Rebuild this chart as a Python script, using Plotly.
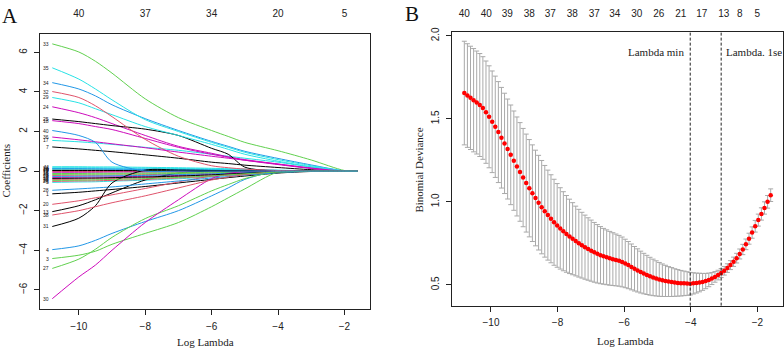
import numpy as np
import plotly.graph_objects as go

W, H = 784, 349

# ---------------- Panel A: coefficient paths ----------------
grid_loglam = [-10.8, -10, -9.5, -9, -8, -7, -6, -5.5, -5, -4, -3, -2, -1.6]

c33 = [6.43, 6.02, 5.55, 4.95, 3.65, 2.70, 2.05, 1.75, 1.45, 1.03, 0.56, 0.03, 0]
c35 = [5.22, 4.65, 4.15, 3.60, 2.60, 2.00, 1.45, 1.20, 0.95, 0.58, 0.27, 0.01, 0]
c34 = [4.47, 4.15, 3.80, 3.35, 2.65, 2.05, 1.50, 1.25, 1.00, 0.64, 0.31, 0.01, 0]
c32 = [4.02, 3.72, 3.30, 2.75, 1.60, 0.75, 0.27, 0.17, 0.10, 0.03, 0, 0, 0]
c29 = [3.72, 3.45, 3.15, 2.85, 2.25, 1.80, 1.35, 1.10, 0.85, 0.50, 0.22, 0, 0]
c24 = [3.25, 2.95, 2.70, 2.40, 1.80, 1.25, 0.90, 0.72, 0.58, 0.36, 0.15, 0, 0]
c25 = [2.63, 2.50, 2.40, 2.30, 2.12, 1.80, 1.15, 0.85, 0.20, 0, 0, 0, 0]
c18 = [2.55, 2.40, 2.25, 2.10, 1.65, 1.20, 0.85, 0.70, 0.55, 0.33, 0.13, 0, 0]
c40 = [2.05, 1.80, 1.45, 0.45, 0, 0, 0, 0, 0, 0, 0, 0, 0]
c36 = [1.72, 1.58, 1.48, 1.38, 1.18, 0.96, 0.75, 0.65, 0.55, 0.35, 0.15, 0, 0]
c17 = [1.55, 1.48, 1.42, 1.35, 1.20, 1.05, 0.85, 0.75, 0.65, 0.45, 0.20, 0, 0]
c7 = [1.22, 1.12, 1.05, 0.98, 0.82, 0.65, 0.45, 0.38, 0.30, 0.18, 0.07, 0, 0]
c11 = [0.22, 0.22, 0.21, 0.21, 0.19, 0.17, 0.14, 0.12, 0.10, 0.05, 0.01, 0, 0]
c23 = [0.17, 0.17, 0.17, 0.16, 0.15, 0.13, 0.11, 0.09, 0.07, 0.03, 0, 0, 0]
c10 = [0.13, 0.13, 0.12, 0.12, 0.11, 0.10, 0.08, 0.07, 0.06, 0.03, 0, 0, 0]
c16 = [0.10, 0.10, 0.10, 0.09, 0.08, 0.07, 0.06, 0.05, 0.04, 0.02, 0, 0, 0]
c9 = [0.06, 0.06, 0.06, 0.05, 0.05, 0.04, 0.03, 0.03, 0.02, 0.01, 0, 0, 0]
c19 = [0.03, 0.03, 0.03, 0.03, 0.02, 0.02, 0.02, 0.01, 0.01, 0, 0, 0, 0]
c2 = [-0.02, -0.02, -0.02, -0.02, -0.02, -0.01, -0.01, -0.01, 0, 0, 0, 0, 0]
c12 = [-0.06, -0.06, -0.06, -0.05, -0.05, -0.04, -0.03, -0.02, -0.02, 0, 0, 0, 0]
c15 = [-0.12, -0.12, -0.11, -0.11, -0.10, -0.08, -0.06, -0.05, -0.04, -0.01, 0, 0, 0]
c21 = [-0.17, -0.16, -0.16, -0.15, -0.14, -0.12, -0.09, -0.07, -0.05, -0.02, 0, 0, 0]
c8 = [-0.22, -0.21, -0.21, -0.20, -0.18, -0.15, -0.11, -0.09, -0.07, -0.02, 0, 0, 0]
c22 = [-0.27, -0.26, -0.25, -0.24, -0.22, -0.18, -0.14, -0.11, -0.08, -0.03, 0, 0, 0]
c6 = [-0.32, -0.31, -0.30, -0.29, -0.26, -0.22, -0.16, -0.13, -0.10, -0.03, 0, 0, 0]
c37 = [-0.37, -0.36, -0.35, -0.33, -0.30, -0.25, -0.19, -0.15, -0.11, -0.04, 0, 0, 0]
c14 = [-0.42, -0.41, -0.39, -0.38, -0.34, -0.29, -0.21, -0.17, -0.13, -0.04, 0, 0, 0]
c39 = [-0.47, -0.46, -0.44, -0.42, -0.38, -0.32, -0.24, -0.19, -0.14, -0.05, 0, 0, 0]
c26 = [-0.52, -0.50, -0.49, -0.47, -0.42, -0.35, -0.26, -0.21, -0.16, -0.05, 0, 0, 0]
c5 = [-0.57, -0.55, -0.54, -0.51, -0.46, -0.39, -0.29, -0.23, -0.17, -0.06, 0, 0, 0]
c28 = [-0.97, -0.90, -0.85, -0.80, -0.65, -0.50, -0.35, -0.28, -0.20, -0.08, 0, 0, 0]
c1 = [-1.15, -1.07, -1.00, -0.93, -0.78, -0.60, -0.42, -0.33, -0.25, -0.10, -0.02, 0, 0]
c20 = [-1.68, -1.50, -1.35, -1.20, -0.88, -0.55, -0.25, -0.15, -0.08, 0, 0, 0, 0]
c13 = [-2.05, -1.75, -1.45, -1.10, -0.45, -0.10, 0, 0, 0, 0, 0, 0, 0]
c38 = [-2.22, -2.00, -1.80, -1.60, -1.25, -0.85, -0.45, -0.30, -0.18, -0.02, 0, 0, 0]
c31 = [-2.80, -2.38, -1.75, -0.60, 0.05, 0.05, 0.03, 0.02, 0.01, 0, 0, 0, 0]
c4 = [-3.97, -3.78, -3.50, -3.15, -2.55, -2.00, -1.25, -0.85, -0.42, 0, 0, 0, 0]
c3 = [-4.42, -4.25, -4.05, -3.70, -3.15, -2.60, -1.80, -1.35, -0.90, -0.05, 0, 0, 0]
c27 = [-4.92, -4.45, -3.95, -3.35, -2.40, -1.75, -1.00, -0.68, -0.38, -0.02, 0, 0, 0]
c30 = [-6.45, -5.35, -4.75, -4.00, -2.60, -1.45, -0.38, -0.12, -0.03, 0, 0, 0, 0]

coef_paths = {
    1: c1, 2: c2, 3: c3, 4: c4, 5: c5, 6: c6, 7: c7, 8: c8, 9: c9, 10: c10,
    11: c11, 12: c12, 13: c13, 14: c14, 15: c15, 16: c16, 17: c17, 18: c18,
    19: c19, 20: c20, 21: c21, 22: c22, 23: c23, 24: c24, 25: c25, 26: c26,
    27: c27, 28: c28, 29: c29, 30: c30, 31: c31, 32: c32, 33: c33, 34: c34,
    35: c35, 36: c36, 37: c37, 38: c38, 39: c39, 40: c40,
}

top_a_pos = [-10, -8, -6, -4, -2]
top_a_lab = ["40", "37", "34", "20", "5"]

# R default palette (matplot col = 1:6)
palette = ["#000000", "#DF536B", "#61D04F", "#2297E6", "#28E2E5", "#CD0BBC"]

# ---------------- Panel B: cross-validation ----------------
log_lambda = np.linspace(-10.8, -1.6, 100)
cv_mean = [
    1.655, 1.640, 1.626, 1.612, 1.598, 1.583, 1.565, 1.540, 1.512, 1.482,
    1.452, 1.420, 1.386, 1.352, 1.318, 1.283, 1.248, 1.213, 1.180, 1.146,
    1.113, 1.082, 1.052, 1.023, 0.995, 0.968, 0.943, 0.920, 0.898, 0.877,
    0.858, 0.840, 0.823, 0.807, 0.792, 0.778, 0.764, 0.751, 0.739, 0.727,
    0.716, 0.706, 0.696, 0.687, 0.679, 0.672, 0.666, 0.660, 0.655, 0.650,
    0.645, 0.638, 0.629, 0.619, 0.608, 0.597, 0.587, 0.577, 0.568, 0.560,
    0.552, 0.545, 0.539, 0.533, 0.528, 0.524, 0.520, 0.517, 0.514, 0.512,
    0.510, 0.509, 0.508, 0.507, 0.509, 0.511, 0.514, 0.518, 0.523, 0.530,
    0.538, 0.548, 0.559, 0.571, 0.585, 0.601, 0.619, 0.639, 0.661, 0.686,
    0.713, 0.744, 0.778, 0.815, 0.853, 0.890, 0.927, 0.963, 1.000, 1.040,
]
cv_sd = [
    0.312, 0.312, 0.311, 0.311, 0.310, 0.310, 0.309, 0.308, 0.307, 0.306,
    0.305, 0.304, 0.303, 0.302, 0.301, 0.300, 0.299, 0.298, 0.297, 0.296,
    0.295, 0.293, 0.291, 0.288, 0.285, 0.281, 0.276, 0.271, 0.265, 0.259,
    0.252, 0.245, 0.238, 0.231, 0.224, 0.217, 0.210, 0.204, 0.198, 0.193,
    0.188, 0.184, 0.180, 0.176, 0.172, 0.168, 0.165, 0.162, 0.159, 0.156,
    0.153, 0.150, 0.146, 0.142, 0.138, 0.134, 0.130, 0.126, 0.122, 0.118,
    0.114, 0.110, 0.106, 0.102, 0.098, 0.094, 0.090, 0.087, 0.083, 0.080,
    0.077, 0.074, 0.071, 0.068, 0.064, 0.060, 0.056, 0.051, 0.046, 0.041,
    0.036, 0.032, 0.029, 0.027, 0.026, 0.026, 0.027, 0.028, 0.029, 0.030,
    0.031, 0.032, 0.033, 0.034, 0.035, 0.036, 0.037, 0.037, 0.038, 0.038,
]
top_b_pos = [-10.80, -10.14, -9.51, -8.85, -8.22, -7.56, -6.90, -6.28,
             -5.62, -4.96, -4.30, -3.67, -3.01, -2.53, -2.00]
top_b_lab = ["40", "40", "39", "38", "37", "38", "37", "34", "30", "26",
             "21", "17", "13", "8", "5"]

i_min = int(np.argmin(cv_mean))
thr = cv_mean[i_min] + cv_sd[i_min]
i_1se = max(i for i in range(len(cv_mean)) if cv_mean[i] <= thr and i >= i_min)
lam_min = float(log_lambda[i_min])
lam_1se = float(log_lambda[i_1se])

# ---------------- figure ----------------
SANS = "Liberation Sans, Arial, sans-serif"
SERIF = "Liberation Serif, Times New Roman, serif"

fig = go.Figure()

for k in sorted(coef_paths):
    fig.add_trace(go.Scatter(
        x=grid_loglam, y=coef_paths[k], mode="lines",
        line=dict(color=palette[(k - 1) % 6], width=1, shape="spline", smoothing=0.8),
        xaxis="x", yaxis="y", showlegend=False, hoverinfo="skip"))

fig.add_trace(go.Scatter(
    x=list(log_lambda), y=cv_mean, mode="markers",
    marker=dict(color="#FF0000", size=4.5),
    error_y=dict(type="data", array=cv_sd, color="#A9A9A9", thickness=1, width=2.5),
    xaxis="x2", yaxis="y2", showlegend=False, hoverinfo="skip"))

# invisible traces for the top axes
fig.add_trace(go.Scatter(x=top_a_pos, y=[None] * len(top_a_pos), xaxis="x3", yaxis="y",
                         showlegend=False, hoverinfo="skip", mode="markers"))
fig.add_trace(go.Scatter(x=top_b_pos, y=[None] * len(top_b_pos), xaxis="x4", yaxis="y2",
                         showlegend=False, hoverinfo="skip", mode="markers"))

def px_x(p):
    return p / W

def px_y(p):
    return 1 - p / H

xrange = [-11.17, -1.23]
ax_common = dict(showgrid=False, zeroline=False, showline=True, mirror=True,
                 linecolor="#222", linewidth=1, ticks="outside", ticklen=5,
                 tickcolor="#222", tickfont=dict(family=SANS, size=10, color="#222"))

fig.update_layout(
    width=W, height=H, margin=dict(l=0, r=0, t=0, b=0),
    paper_bgcolor="white", plot_bgcolor="white",
    xaxis=dict(domain=[px_x(40), px_x(370)], range=xrange, anchor="y",
               tickvals=[-10, -8, -6, -4, -2], ticklabelstandoff=3, **ax_common),
    yaxis=dict(domain=[px_y(308), px_y(29)], range=[-6.95, 6.95], anchor="x",
               tickvals=[-6, -4, -2, 0, 2, 4, 6], tickangle=-90, ticklabelstandoff=3,
               **ax_common),
    xaxis2=dict(domain=[px_x(452), px_x(783)], range=xrange, anchor="y2",
                tickvals=[-10, -8, -6, -4, -2], ticklabelstandoff=2, **ax_common),
    yaxis2=dict(domain=[px_y(305), px_y(27)], range=[0.375, 2.025], anchor="x2",
                tickvals=[0.5, 1.0, 1.5, 2.0], tickformat=".1f", tickangle=-90,
                ticklabelstandoff=3, **ax_common),
    xaxis3=dict(overlaying="x", side="top", anchor="y", range=xrange,
                tickvals=top_a_pos, ticktext=top_a_lab, ticks="", showline=False,
                showgrid=False, zeroline=False, ticklabelstandoff=14,
                tickfont=dict(family=SANS, size=10, color="#222")),
    xaxis4=dict(overlaying="x2", side="top", anchor="y2", range=xrange,
                tickvals=top_b_pos, ticktext=top_b_lab, ticks="", showline=False,
                showgrid=False, zeroline=False, ticklabelstandoff=12,
                tickfont=dict(family=SANS, size=10, color="#222")),
)

# dashed lambda lines
for lam in (lam_min, lam_1se):
    fig.add_shape(type="line", xref="x2", yref="y2 domain", x0=lam, x1=lam, y0=0, y1=1,
                  line=dict(color="#222", width=1, dash="3px,2px"))

ann = []
# coefficient labels at the left end of each path
for k in sorted(coef_paths):
    ann.append(dict(x=grid_loglam[0], y=coef_paths[k][0], xref="x", yref="y",
                    text=str(k), showarrow=False, xanchor="right", yanchor="middle",
                    xshift=-1, font=dict(family=SANS, size=5, color="#222")))

def paper_text(xp, yp, text, size=11, angle=0, color="#222"):
    return dict(x=px_x(xp), y=px_y(yp), xref="paper", yref="paper", text=text,
                showarrow=False, xanchor="center", yanchor="middle", textangle=angle,
                font=dict(family=SERIF, size=size, color=color))

ann += [
    dict(x=lam_min, y=px_y(48), xref="x2", yref="paper", text="Lambda min",
         showarrow=False, xanchor="right", yanchor="middle", xshift=-4,
         font=dict(family=SERIF, size=11, color="#222")),
    dict(x=lam_1se, y=px_y(48), xref="x2", yref="paper", text="Lambda. 1se",
         showarrow=False, xanchor="left", yanchor="middle", xshift=3,
         font=dict(family=SERIF, size=11, color="#222")),
    paper_text(6, 168, "Coefficients", angle=-90),
    paper_text(419, 168, "Binomial Deviance", angle=-90),
    paper_text(205, 342, "Log Lambda"),
    paper_text(625, 341, "Log Lambda"),
    paper_text(10, 11, "A", size=21, color="#111"),
    paper_text(412, 9, "B", size=21, color="#111"),
]
fig.update_layout(annotations=ann)

fig.write_html(
    "out.html",
    config={"displayModeBar": False},
    post_script="document.body.style.margin='0';document.body.style.overflow='hidden';",
)
